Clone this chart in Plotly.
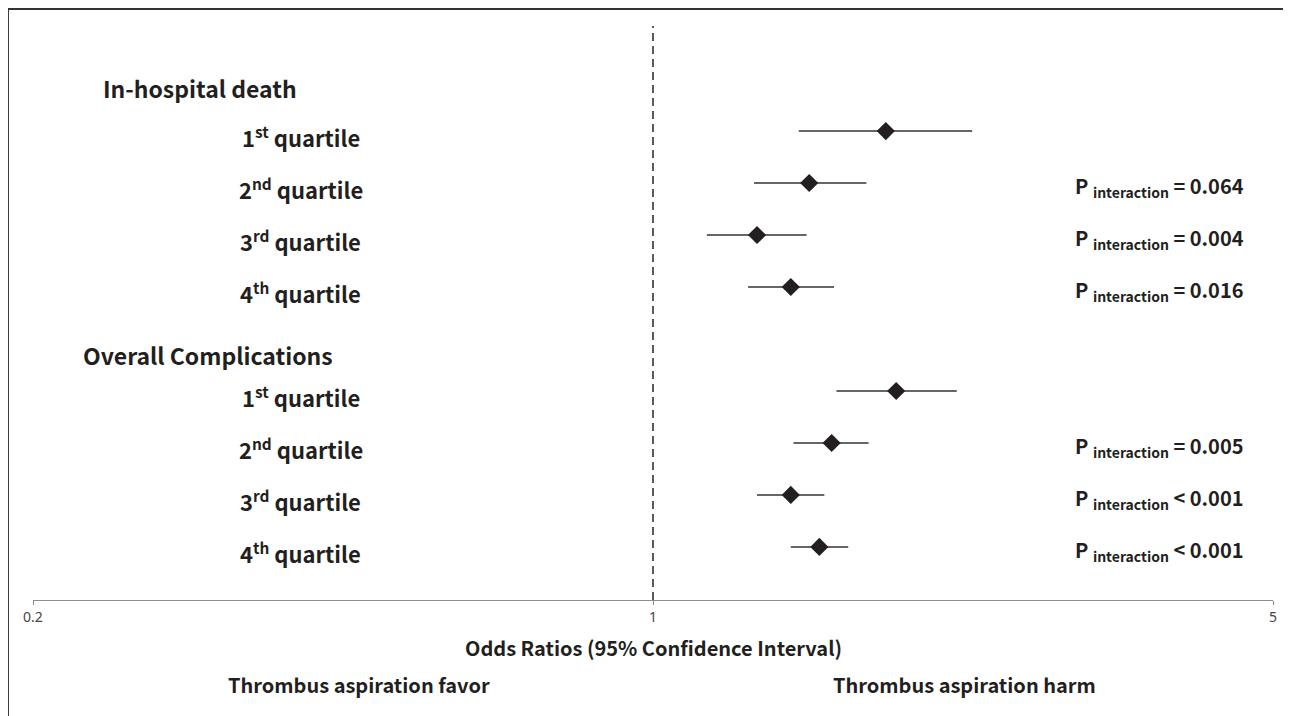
import plotly.graph_objects as go

# ---- data ----
groups = ["In-hospital death", "Overall Complications"]
quartiles = ["1<sup>st</sup> quartile", "2<sup>nd</sup> quartile",
             "3<sup>rd</sup> quartile", "4<sup>th</sup> quartile"]
or_death = [1.83, 1.50, 1.31, 1.43]
lo_death = [1.46, 1.30, 1.15, 1.28]
hi_death = [2.29, 1.74, 1.49, 1.60]
or_comp = [1.88, 1.59, 1.43, 1.54]
lo_comp = [1.61, 1.44, 1.31, 1.43]
hi_comp = [2.20, 1.75, 1.56, 1.66]
p_death = ["", "= 0.064", "= 0.004", "= 0.016"]
p_comp = ["", "= 0.005", "< 0.001", "< 0.001"]
tick_vals = [0.2, 1, 5]
tick_text = ["0.2", "1", "5"]

rows_death = [1, 2, 3, 4]
rows_comp = [6, 7, 8, 9]
header_rows = [0.17, 5.31]

FONT = "Noto Sans CJK JP"
INK = "#231f20"

fig = go.Figure()

for rows, est, lo, hi in [(rows_death, or_death, lo_death, hi_death),
                          (rows_comp, or_comp, lo_comp, hi_comp)]:
    fig.add_trace(go.Scatter(
        x=est, y=rows, mode="markers",
        marker=dict(symbol="diamond", size=14, color=INK),
        error_x=dict(type="data", symmetric=False,
                     array=[h - e for h, e in zip(hi, est)],
                     arrayminus=[e - l for e, l in zip(est, lo)],
                     color="#333333", thickness=1.6, width=0),
        showlegend=False, hoverinfo="skip"))

# reference line at OR = 1
fig.add_shape(type="line", xref="x", yref="paper", x0=1, x1=1, y0=0, y1=1,
              line=dict(color="#333333", width=1.6, dash="8px,5px"))

# frame (top and left edges)
fig.add_shape(type="line", xref="paper", yref="paper", x0=-0.0202, x1=1.05,
              y0=1.0296, y1=1.0296, line=dict(color="#333333", width=2))
fig.add_shape(type="line", xref="paper", yref="paper", x0=-0.0202, x1=-0.0202,
              y0=1.0296, y1=-0.25, line=dict(color="#333333", width=2))

ann = []
hx = [0.1347, 0.1411]
for g, yv, xv in zip(groups, header_rows, hx):
    ann.append(dict(text="<b>%s</b>" % g, x=xv, y=yv, xref="paper", yref="y",
                    showarrow=False, xanchor="center", yanchor="middle",
                    font=dict(family=FONT, size=23, color=INK)))
for rows, ps in [(rows_death, p_death), (rows_comp, p_comp)]:
    for q, r, p in zip(quartiles, rows, ps):
        ann.append(dict(text="<b>%s</b>" % q, x=0.2161, y=r + 0.1, xref="paper", yref="y",
                        showarrow=False, xanchor="center", yanchor="middle",
                        font=dict(family=FONT, size=22, color=INK)))
        if p:
            ann.append(dict(text="<b>P <sub>interaction</sub> %s</b>" % p,
                            x=0.8387, y=r + 0.06, xref="paper", yref="y",
                            showarrow=False, xanchor="left", yanchor="middle",
                            font=dict(family=FONT, size=20, color=INK)))

ann.append(dict(text="<b>Odds Ratios (95% Confidence Interval)</b>", x=0.5, y=-0.0836,
                xref="paper", yref="paper", showarrow=False,
                xanchor="center", yanchor="middle",
                font=dict(family=FONT, size=20, color=INK)))
ann.append(dict(text="<b>Thrombus aspiration favor</b>", x=0.263, y=-0.148,
                xref="paper", yref="paper", showarrow=False,
                xanchor="center", yanchor="middle",
                font=dict(family=FONT, size=20, color=INK)))
ann.append(dict(text="<b>Thrombus aspiration harm</b>", x=0.751, y=-0.148,
                xref="paper", yref="paper", showarrow=False,
                xanchor="center", yanchor="middle",
                font=dict(family=FONT, size=20, color=INK)))

fig.update_layout(
    width=1291, height=716,
    margin=dict(l=25, r=26, t=18, b=124),
    paper_bgcolor="white", plot_bgcolor="white",
    annotations=ann,
    xaxis=dict(type="log", range=[-0.69897, 0.69897], tickvals=tick_vals,
               ticktext=tick_text, showgrid=False, zeroline=False,
               showline=True, linecolor="#8c8c8c", linewidth=1,
               ticks="outside", ticklen=4, tickcolor="#8c8c8c",
               tickfont=dict(family="Liberation Sans Narrow, Noto Sans", size=14, color="#444444")),
    yaxis=dict(range=[10.02, -1.02], visible=False, showgrid=False, zeroline=False),
)

fig.write_html("out.html")
